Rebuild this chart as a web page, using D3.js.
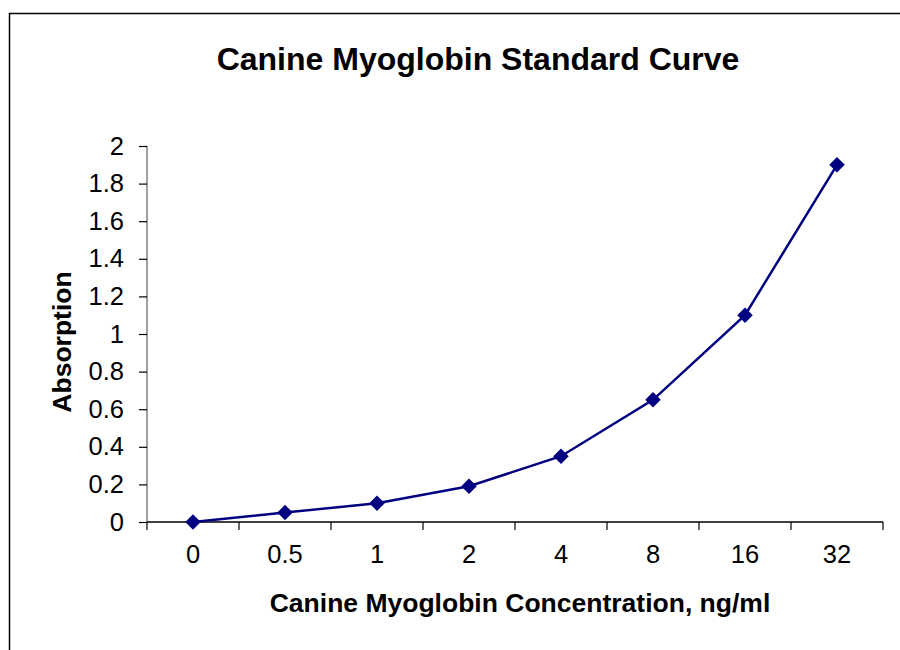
<!DOCTYPE html>
<html><head><meta charset="utf-8">
<script src="https://cdn.jsdelivr.net/npm/d3@7"></script>
<style>body{margin:0;background:#fff}svg{display:block}text{font-family:"Liberation Sans",Arial,sans-serif}</style>
</head><body>
<svg id="c" width="900" height="650"></svg>
<script>
const categories = ["0","0.5","1","2","4","8","16","32"];
const absorption = [0, 0.05, 0.1, 0.19, 0.35, 0.65, 1.1, 1.9];
const yTicks = [0,0.2,0.4,0.6,0.8,1,1.2,1.4,1.6,1.8,2];
const title = "Canine Myoglobin Standard Curve";
const xTitle = "Canine Myoglobin Concentration, ng/ml";
const yTitle = "Absorption";

const svg = d3.select("#c");
svg.append("rect").attr("x",9.5).attr("y",13.5).attr("width",900).attr("height",700)
  .attr("fill","#fff").attr("stroke","#000").attr("stroke-width",1.5);

const L=147, R=883, T=146, B=522;
const x = d3.scaleBand().domain(categories).range([L,R]);
const y = d3.scaleLinear().domain([0,2]).range([B,T]);

svg.append("text").attr("x",478).attr("y",70).attr("text-anchor","middle")
  .attr("font-size",32).attr("font-weight","bold").text(title);

// y axis
const ya = svg.append("g").attr("transform",`translate(${L},0)`)
  .call(d3.axisLeft(y).tickValues(yTicks).tickSize(8).tickPadding(15).tickFormat(d3.format("~g")));
ya.select(".domain").attr("stroke","#808080").attr("stroke-width",1.5).attr("d",`M0,${T}V${B}`);
ya.selectAll(".tick line").attr("stroke","#000").attr("stroke-width",1.2);
ya.selectAll(".tick text").attr("font-size",25.5).attr("fill","#000").attr("font-family","Liberation Sans, Arial, sans-serif");

// x axis
const xa = svg.append("g").attr("transform",`translate(0,${B})`);
xa.append("line").attr("x1",L).attr("x2",R).attr("stroke","#000").attr("stroke-width",1.5);
const bounds = categories.map(c=>x(c)).concat([x(categories[categories.length-1])+x.bandwidth()]);
xa.selectAll("line.t").data(bounds).join("line").attr("class","t")
  .attr("x1",d=>d).attr("x2",d=>d).attr("y1",0).attr("y2",8).attr("stroke","#000").attr("stroke-width",1.2);
xa.selectAll("text").data(categories).join("text")
  .attr("x",d=>x(d)+x.bandwidth()/2).attr("y",41).attr("text-anchor","middle")
  .attr("font-size",25.5).text(d=>d);

svg.append("text").attr("x",520).attr("y",612).attr("text-anchor","middle")
  .attr("font-size",26.5).attr("font-weight","bold").text(xTitle);
svg.append("text").attr("transform","translate(71,342) rotate(-90)").attr("text-anchor","middle")
  .attr("font-size",26.5).attr("font-weight","bold").text(yTitle);

const cx = d=>x(d)+x.bandwidth()/2;
const line = d3.line().x((d,i)=>cx(categories[i])).y(d=>y(d));
svg.append("path").datum(absorption).attr("d",line).attr("fill","none")
  .attr("stroke","#000080").attr("stroke-width",2.5);
svg.selectAll("path.m").data(absorption).join("path").attr("class","m")
  .attr("d",d3.symbol(d3.symbolSquare,120)())
  .attr("transform",(d,i)=>`translate(${cx(categories[i])},${y(d)}) rotate(45)`)
  .attr("fill","#000080");
</script>
</body></html>
